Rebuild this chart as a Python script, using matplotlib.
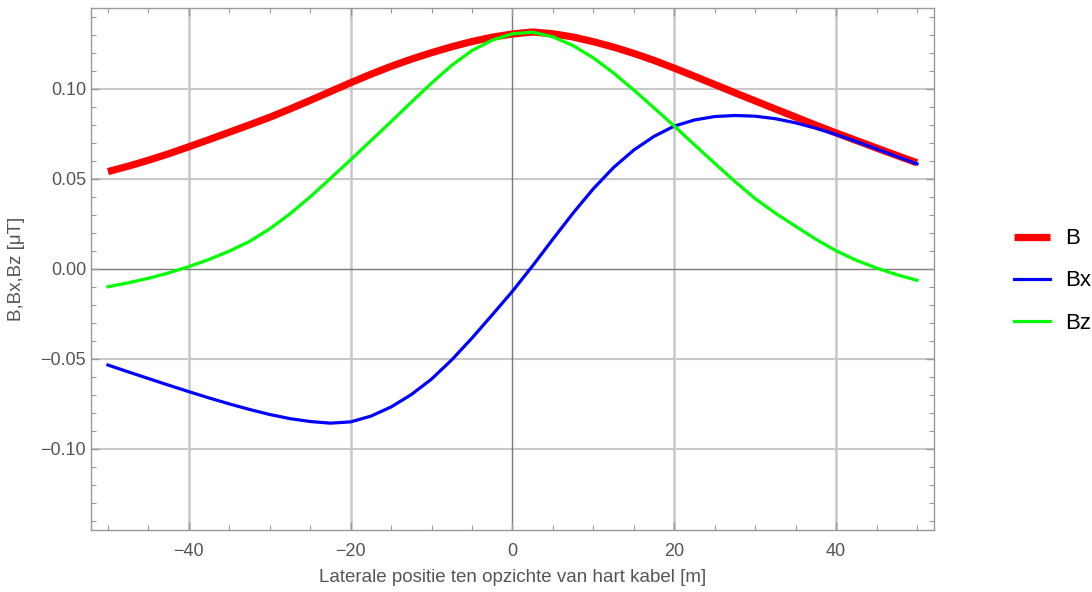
import numpy as np
import matplotlib.pyplot as plt
from matplotlib.ticker import MultipleLocator, FuncFormatter

# lateral position [m]
x = [-50, -47.5, -45, -42.5, -40, -37.5, -35, -32.5, -30, -27.5, -25, -22.5, -20,
     -17.5, -15, -12.5, -10, -7.5, -5, -2.5, 0, 2.5, 5, 7.5, 10, 12.5, 15, 17.5,
     20, 22.5, 25, 27.5, 30, 32.5, 35, 37.5, 40, 42.5, 45, 47.5, 50]

# field values [uT]
B = [0.0540, 0.0570, 0.0603, 0.0639, 0.0678, 0.0718, 0.0759, 0.0800, 0.0842, 0.0888,
     0.0936, 0.0985, 0.1034, 0.1081, 0.1125, 0.1165, 0.1201, 0.1234, 0.1263, 0.1287,
     0.1305, 0.1316, 0.1306, 0.1288, 0.1262, 0.1232, 0.1197, 0.1158, 0.1115, 0.1070,
     0.1024, 0.0978, 0.0933, 0.0888, 0.0843, 0.0798, 0.0755, 0.0713, 0.0671, 0.0630,
     0.0589]
Bx = [-0.0535, -0.0573, -0.0610, -0.0647, -0.0683, -0.0718, -0.0751, -0.0782, -0.0810,
      -0.0833, -0.0849, -0.0858, -0.0851, -0.0819, -0.0768, -0.0699, -0.0613, -0.0506,
      -0.0385, -0.0256, -0.0125, 0.0017, 0.0165, 0.0310, 0.0445, 0.0563, 0.0660,
      0.0736, 0.0793, 0.0827, 0.0846, 0.0852, 0.0848, 0.0834, 0.0811, 0.0781, 0.0746,
      0.0707, 0.0666, 0.0624, 0.0583]
Bz = [-0.0100, -0.0078, -0.0053, -0.0023, 0.0012, 0.0052, 0.0098, 0.0152, 0.0222,
      0.0305, 0.0400, 0.0502, 0.0606, 0.0712, 0.0818, 0.0926, 0.1032, 0.1131, 0.1213,
      0.1271, 0.1306, 0.1315, 0.1289, 0.1240, 0.1172, 0.1088, 0.0993, 0.0894, 0.0793,
      0.0689, 0.0586, 0.0485, 0.0390, 0.0309, 0.0236, 0.0164, 0.0100, 0.0047, 0.0004,
      -0.0033, -0.0064]

plt.rcParams['font.family'] = ['Liberation Sans', 'DejaVu Sans']

fig = plt.figure(figsize=(10.92, 5.92), dpi=100)
ax = fig.add_axes([0.0833, 0.1047, 0.772, 0.8826])

grid_c = '#c8c8c8'
for gx in [-40, -20, 20, 40]:
    ax.axvline(gx, color=grid_c, lw=1.8, zorder=0)
for gy in [-0.10, -0.05, 0.05, 0.10]:
    ax.axhline(gy, color=grid_c, lw=1.5, zorder=0)
ax.axvline(0, color='#7a7a7a', lw=1.0, zorder=1)
ax.axhline(0, color='#7a7a7a', lw=1.0, zorder=1)

ax.plot(x, B, color='#ff0000', lw=5.2, label='B', solid_capstyle='butt',
        solid_joinstyle='round', zorder=2)
ax.plot(x, Bx, color='#0000ff', lw=2.3, label='Bx', solid_joinstyle='round', zorder=3)
ax.plot(x, Bz, color='#00ff00', lw=2.3, label='Bz', solid_joinstyle='round', zorder=4)

ax.set_xlim(-52.1, 52.1)
ax.set_ylim(-0.1452, 0.1452)

ax.xaxis.set_major_locator(MultipleLocator(20))
ax.xaxis.set_minor_locator(MultipleLocator(5))
ax.yaxis.set_major_locator(MultipleLocator(0.05))
ax.yaxis.set_minor_locator(MultipleLocator(0.01))
ax.xaxis.set_major_formatter(FuncFormatter(lambda v, p: ('%d' % round(v)).replace('-', '\u2212')))
ax.yaxis.set_major_formatter(FuncFormatter(lambda v, p: ('%.2f' % v).replace('-', '\u2212') if abs(v) > 1e-9 else '0.00'))

for s in ax.spines.values():
    s.set_color('#999999')
    s.set_linewidth(1.0)
ax.tick_params(which='both', direction='in', top=True, right=True, colors='#999999',
               labelcolor='#555555', labelsize=13)
ax.tick_params(which='major', length=6, width=1)
ax.tick_params(which='minor', length=3.5, width=0.8)
ax.tick_params(axis='x', pad=9)

ax.set_xlabel('Laterale positie ten opzichte van hart kabel [m]', fontsize=13.5,
              color='#555555', labelpad=7)
ax.set_ylabel('B,Bx,Bz [\u03bcT]', fontsize=13.5, color='#555555', labelpad=11)

fig.legend(loc='center left', bbox_to_anchor=(1003 / 1092, 1 - 281 / 592), frameon=False,
           fontsize=16, handlelength=1.6, handletextpad=0.7, labelspacing=0.95, borderpad=0)

fig.savefig('out.png', dpi=100)
